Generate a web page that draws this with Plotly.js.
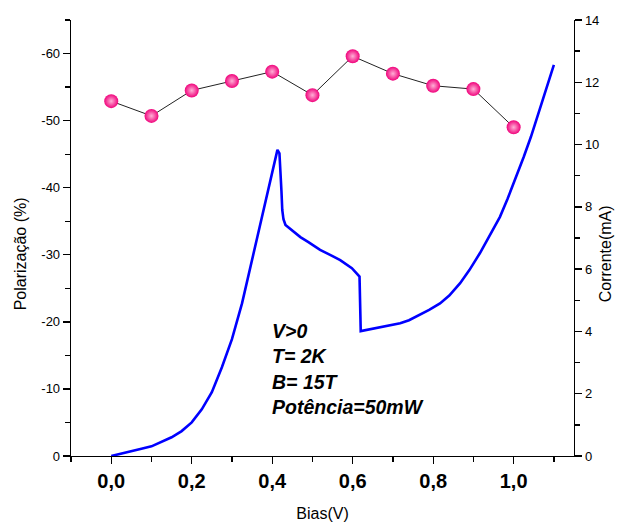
<!DOCTYPE html>
<html>
<head>
<meta charset="utf-8">
<script src="https://cdn.plot.ly/plotly-3.0.1.min.js"></script>
<style>html,body{margin:0;padding:0;background:#fff;}#chart{width:624px;height:525px;}</style>
</head>
<body>
<div id="chart"></div>
<script>
// Polarization (left axis), measured at each bias step
const biasPol = [0.0, 0.1, 0.2, 0.3, 0.4, 0.5, 0.6, 0.7, 0.8, 0.9, 1.0];
const polarization = [-52.9, -50.7, -54.5, -55.9, -57.3, -53.8, -59.6, -57.0, -55.2, -54.7, -49.0];

// Current (right axis) vs bias
const biasIV = [0, 0.025, 0.05, 0.075, 0.1, 0.125, 0.15, 0.175, 0.2, 0.225, 0.25, 0.275, 0.3, 0.325, 0.35, 0.375, 0.4, 0.413,
  0.418, 0.421, 0.423, 0.425, 0.428, 0.433, 0.443, 0.453, 0.47, 0.49, 0.519, 0.55, 0.569, 0.598, 0.614, 0.617,
  0.620, 0.65, 0.68, 0.70, 0.718, 0.74, 0.767, 0.79, 0.817, 0.84, 0.867, 0.89, 0.916, 0.94, 0.966, 0.985, 1.005, 1.025, 1.043, 1.06, 1.08, 1.1];
const current = [0, 0.07, 0.15, 0.23, 0.31, 0.45, 0.6, 0.8, 1.08, 1.5, 2.05, 2.85, 3.75, 4.9, 6.3, 7.75, 9.05, 9.83,
  9.72, 8.6, 8.5, 7.9, 7.6, 7.42, 7.32, 7.2, 7.03, 6.87, 6.62, 6.42, 6.29, 6.03, 5.81, 5.76,
  4.01, 4.08, 4.16, 4.2, 4.26, 4.36, 4.53, 4.69, 4.9, 5.15, 5.55, 5.97, 6.51, 7.06, 7.68, 8.26, 8.9, 9.6, 10.25, 10.92, 11.72, 12.56];

// Tick labels
const polTickVals = [0, -10, -20, -30, -40, -50, -60];
const polTickText = ['0', '-10', '-20', '-30', '-40', '-50', '-60'];
const annotationLines = ['V&gt;0', 'T= 2K', 'B= 15T', 'Potência=50mW'];

const FONT = 'Arial, "Liberation Sans", sans-serif';

const traces = [
  {
    x: biasIV, y: current, yaxis: 'y2', type: 'scatter', mode: 'lines',
    line: {color: '#0000ff', width: 2.6},
    hoverinfo: 'skip', showlegend: false
  },
  {
    x: biasPol, y: polarization, yaxis: 'y', type: 'scatter', mode: 'lines+markers',
    line: {color: '#222222', width: 1},
    marker: {size: 14, color: '#f0037c', gradient: {type: 'radial', color: '#ffb0d6'}, line: {width: 0}},
    showlegend: false
  }
];

const axisCommon = {
  showline: true, linecolor: '#000', linewidth: 1.3,
  ticks: 'outside', ticklen: 7, tickwidth: 1.3, tickcolor: '#000',
  showgrid: false, zeroline: false, fixedrange: true
};

const layout = {
  width: 624, height: 525,
  margin: {l: 71, r: 50, t: 20, b: 69, pad: 0},
  paper_bgcolor: '#fff', plot_bgcolor: '#fff',
  separators: ',.',
  font: {family: FONT, color: '#000', size: 14},
  showlegend: false,
  xaxis: Object.assign({}, axisCommon, {
    range: [-0.1, 1.15], tickmode: 'linear', tick0: 0, dtick: 0.2, tickformat: '.1f',
    tickfont: {family: FONT, size: 20, weight: 'bold', color: '#000'},
    minor: {tickmode: 'linear', tick0: 0, dtick: 0.1, ticks: 'outside', ticklen: 5, tickwidth: 1.3, tickcolor: '#000'},
    title: {text: 'Bias(V)', font: {family: FONT, size: 16, color: '#000'}, standoff: 16},
    automargin: false
  }),
  yaxis: Object.assign({}, axisCommon, {
    range: [0, -65], tickmode: 'array', tickvals: polTickVals, ticktext: polTickText,
    tickfont: {family: FONT, size: 13, color: '#000'},
    minor: {tickmode: 'linear', tick0: 0, dtick: 5, ticks: 'outside', ticklen: 5, tickwidth: 1.3, tickcolor: '#000'},
    automargin: false
  }),
  yaxis2: Object.assign({}, axisCommon, {
    range: [0, 14], overlaying: 'y', side: 'right', anchor: 'x',
    tickmode: 'linear', tick0: 0, dtick: 2,
    tickfont: {family: FONT, size: 13, color: '#000'},
    minor: {tickmode: 'linear', tick0: 0, dtick: 1, ticks: 'outside', ticklen: 5, tickwidth: 1.3, tickcolor: '#000'},
    automargin: false
  }),
  annotations: [
    {
      xref: 'paper', yref: 'paper', x: -0.101, y: 0.463, xanchor: 'center', yanchor: 'middle',
      text: 'Polarização (%)', textangle: -90, showarrow: false,
      font: {family: FONT, size: 16, color: '#000'}
    },
    {
      xref: 'paper', yref: 'paper', x: 1.062, y: 0.463, xanchor: 'center', yanchor: 'middle',
      text: 'Corrente(mA)', textangle: -90, showarrow: false,
      font: {family: FONT, size: 16, color: '#000'}
    },
    {
      xref: 'paper', yref: 'paper', x: 0.396, y: 0.2, xanchor: 'left', yanchor: 'middle', align: 'left',
      text: annotationLines.join('<br>'), showarrow: false,
      font: {family: FONT, size: 19.5, color: '#000', weight: 'bold', style: 'italic'}
    }
  ]
};

Plotly.newPlot('chart', traces, layout, {displayModeBar: false, staticPlot: true});
</script>
</body>
</html>
